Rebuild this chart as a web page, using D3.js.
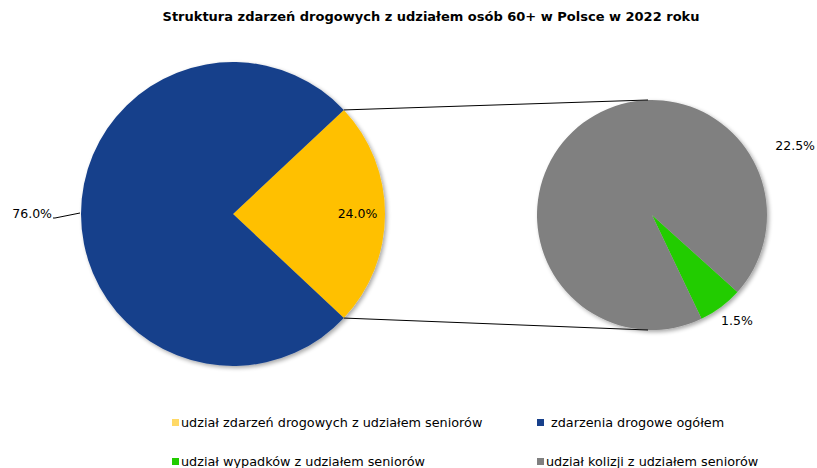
<!DOCTYPE html>
<html>
<head>
<meta charset="utf-8">
<script src="https://cdn.jsdelivr.net/npm/d3@7"></script>
<style>
  html, body { margin: 0; padding: 0; background: #fff; }
  svg { display: block; font-family: "DejaVu Sans", Verdana, sans-serif; }
</style>
</head>
<body>
<svg id="chart" width="817" height="468"></svg>
<script>
// Main pie: all road incidents split into those involving seniors and the rest
const mainLabels = ["udział zdarzeń drogowych z udziałem seniorów", "zdarzenia drogowe ogółem"];
const mainValues = [24.0, 76.0];
const mainColors = ["#FFC000", "#17408B"];

// Secondary pie: breakdown of the seniors' share into accidents and collisions
const subLabels = ["udział wypadków z udziałem seniorów", "udział kolizji z udziałem seniorów"];
const subValues = [1.5, 22.5];
const subColors = ["#22CC00", "#808080"];

const legendLabels = ["udział zdarzeń drogowych z udziałem seniorów", "zdarzenia drogowe ogółem",
                      "udział wypadków z udziałem seniorów", "udział kolizji z udziałem seniorów"];
const legendColors = ["#FFD966", "#17408B", "#22CC00", "#808080"];

const title = "Struktura zdarzeń drogowych z udziałem osób 60+ w Polsce w 2022 roku";

const svg = d3.select("#chart");
const fmt = v => v.toFixed(1) + "%";

const defs = svg.append("defs");
const f = defs.append("filter").attr("id", "shadow")
  .attr("x", "-10%").attr("y", "-10%").attr("width", "125%").attr("height", "125%");
f.append("feGaussianBlur").attr("in", "SourceAlpha").attr("stdDeviation", 2).attr("result", "b");
f.append("feOffset").attr("in", "b").attr("dx", 2).attr("dy", 2).attr("result", "o");
f.append("feComponentTransfer").attr("in", "o").attr("result", "t")
  .append("feFuncA").attr("type", "linear").attr("slope", 0.35);
const fm = f.append("feMerge");
fm.append("feMergeNode").attr("in", "t");
fm.append("feMergeNode").attr("in", "SourceGraphic");

svg.append("text")
  .attr("x", 431).attr("y", 21)
  .attr("text-anchor", "middle")
  .attr("font-size", 13).attr("font-weight", "bold")
  .attr("fill", "#000")
  .text(title);

// ---- main pie ----
const mainC = { x: 233, y: 214 }, mainR = 152;
const mainShare = mainValues[0] / d3.sum(mainValues) * 2 * Math.PI;
const mainPie = d3.pie().sort(null).value(d => d)
  .startAngle(Math.PI / 2 - mainShare / 2)
  .endAngle(Math.PI / 2 - mainShare / 2 + 2 * Math.PI);
const mainArcs = mainPie(mainValues);
const mainArc = d3.arc().innerRadius(0).outerRadius(mainR);

const gMain = svg.append("g").attr("transform", `translate(${mainC.x},${mainC.y})`)
  .attr("filter", "url(#shadow)");
gMain.selectAll("path").data(mainArcs).join("path")
  .attr("d", mainArc)
  .attr("fill", (d, i) => mainColors[i]);

// ---- secondary pie ----
const subC = { x: 652, y: 215 }, subR = 115;
const subStart = 132 * Math.PI / 180;
const subPie = d3.pie().sort(null).value(d => d)
  .startAngle(subStart).endAngle(subStart + 2 * Math.PI);
const subArcs = subPie(subValues);
const subArc = d3.arc().innerRadius(0).outerRadius(subR);

const gSub = svg.append("g").attr("transform", `translate(${subC.x},${subC.y})`)
  .attr("filter", "url(#shadow)");
gSub.selectAll("path").data(subArcs).join("path")
  .attr("d", subArc)
  .attr("fill", (d, i) => subColors[i]);

// ---- connector lines between the seniors' slice and the secondary pie ----
const pt = (c, r, a) => [c.x + r * Math.sin(a), c.y - r * Math.cos(a)];
const yA = mainArcs[0];
const p1 = pt(mainC, mainR, yA.startAngle), p2 = pt(mainC, mainR, yA.endAngle);
svg.append("line").attr("x1", p1[0]).attr("y1", p1[1])
  .attr("x2", subC.x - 4).attr("y2", subC.y - subR)
  .attr("stroke", "#000").attr("stroke-width", 1);
svg.append("line").attr("x1", p2[0]).attr("y1", p2[1])
  .attr("x2", subC.x - 4).attr("y2", subC.y + subR)
  .attr("stroke", "#000").attr("stroke-width", 1);

// ---- data labels ----
const lbl = (x, y, t, anchor) => svg.append("text")
  .attr("x", x).attr("y", y).attr("text-anchor", anchor || "start")
  .attr("dominant-baseline", "middle")
  .attr("font-size", 12.5).attr("fill", "#000").text(t);

// 24.0% inside the yellow slice
lbl(mainC.x + mainR * 0.95, mainC.y, fmt(mainValues[0]), "end");

// 76.0% outside, with a leader line
const bA = mainArcs[1];
const bMid = (bA.startAngle + bA.endAngle) / 2;
const edge = pt(mainC, mainR, bMid);
svg.append("path")
  .attr("d", `M${edge[0] - 1},${edge[1] - 1}L${edge[0] - 26},${edge[1] + 4}L${edge[0] - 28},${edge[1] + 4}`)
  .attr("fill", "none").attr("stroke", "#000").attr("stroke-width", 1);
lbl(edge[0] - 29, edge[1] + 0, fmt(mainValues[1]), "end");

// secondary pie labels
lbl(815, subC.y - 69, fmt(subValues[1]), "end");
lbl(subC.x + 69, subC.y + 106, fmt(subValues[0]), "start");

// ---- legend ----
const legPos = [
  { x: 172, y: 423, tx: 181 },
  { x: 537, y: 423, tx: 551 },
  { x: 172, y: 462, tx: 181 },
  { x: 537, y: 462, tx: 546 }
];
const leg = svg.append("g");
legendLabels.forEach((t, i) => {
  const p = legPos[i];
  leg.append("rect").attr("x", p.x).attr("y", p.y - 4).attr("width", 7).attr("height", 7)
    .attr("fill", legendColors[i]);
  leg.append("text").attr("x", p.tx).attr("y", p.y)
    .attr("dominant-baseline", "middle")
    .attr("font-size", 12.8).attr("fill", "#000").text(t);
});
</script>
</body>
</html>
